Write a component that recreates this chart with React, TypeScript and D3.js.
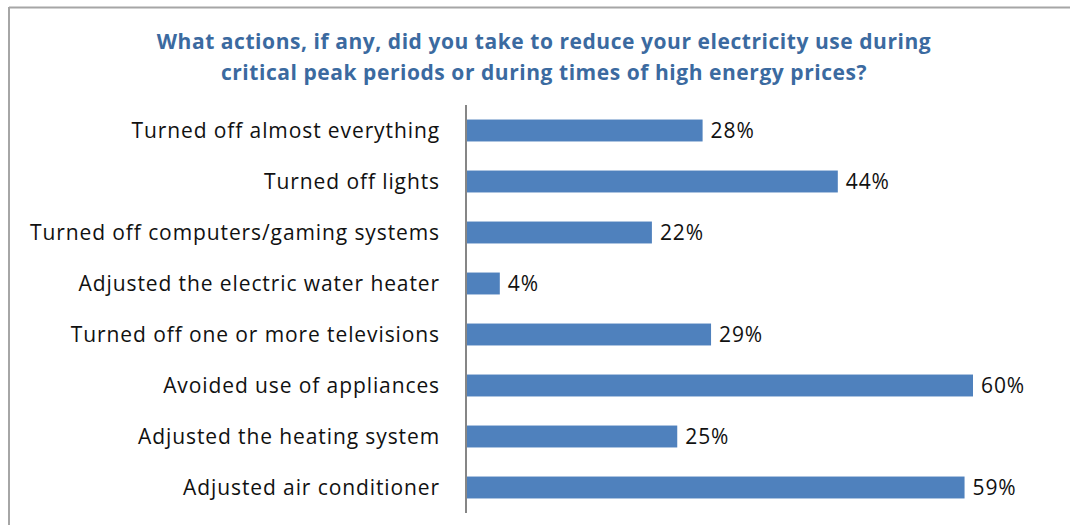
import React from "react";
import * as d3 from "d3";

const titleLines = [
  "What actions, if any, did you take to reduce your electricity use during",
  "critical peak periods or during times of high energy prices?",
];
const categories = [
  "Turned off almost everything",
  "Turned off lights",
  "Turned off computers/gaming systems",
  "Adjusted the electric water heater",
  "Turned off one or more televisions",
  "Avoided use of appliances",
  "Adjusted the heating system",
  "Adjusted air conditioner",
];
const values = [28, 44, 22, 4, 29, 60, 25, 59];

const W = 1070;
const H = 525;
const FONT = "'Open Sans', 'Liberation Sans', sans-serif";

export default function App() {
  const x = d3.scaleLinear().domain([0, 60]).range([466, 973]);
  const y = d3.scaleBand().domain(categories).range([105, 513]).paddingInner(0.57).paddingOuter(0.285);
  return (
    <svg width={W} height={H} style={{ position: "absolute", left: 0, top: 0 }}>
      <rect x={0} y={0} width={W} height={H} fill="#fff" />
      <line x1={9} x2={W} y1={7.5} y2={7.5} stroke="#a6a6a6" strokeWidth={2} />
      <line x1={9} x2={9} y1={7} y2={H} stroke="#a6a6a6" strokeWidth={2} />
      {titleLines.map((t, i) => (
        <text key={i} x={544} y={49 + i * 31} textAnchor="middle" fill="#3b6aa0" fontWeight="bold" fontSize={21} letterSpacing={0.55} fontFamily={FONT}>
          {t}
        </text>
      ))}
      {categories.map((c, i) => {
        const by = y(c)!;
        const bh = y.bandwidth();
        return (
          <g key={c}>
            <rect x={x(0)} y={by} width={x(values[i]) - x(0)} height={bh} fill="#4f81bd" />
            <text x={440} y={by + bh / 2} dy="0.36em" textAnchor="end" fontSize={21} letterSpacing={0.9} fontFamily={FONT} fill="#111">
              {c}
            </text>
            <text x={x(values[i]) + 8} y={by + bh / 2} dy="0.36em" fontSize={21} letterSpacing={0.9} fontFamily={FONT} fill="#111">
              {values[i] + "%"}
            </text>
          </g>
        );
      })}
      <line x1={x(0)} x2={x(0)} y1={105} y2={513} stroke="#868686" strokeWidth={2} />
    </svg>
  );
}
